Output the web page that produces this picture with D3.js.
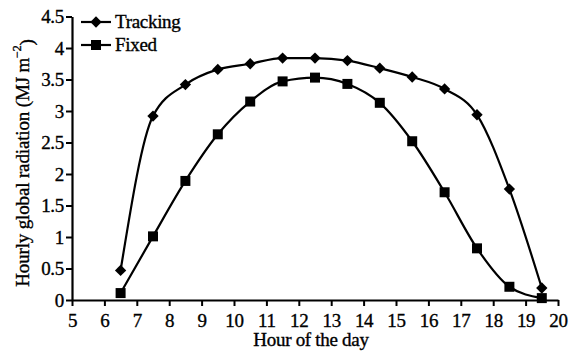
<!DOCTYPE html>
<html><head><meta charset="utf-8">
<script src="https://cdn.jsdelivr.net/npm/d3@7"></script>
<style>
body{margin:0;background:#fff;}
text{font-family:"Liberation Serif","Times New Roman",serif;fill:#000;stroke:#000;stroke-width:0.35px;}
</style></head>
<body><svg id="c" width="579" height="352"></svg>
<script>
const hours = [6.5,7.5,8.5,9.5,10.5,11.5,12.5,13.5,14.5,15.5,16.5,17.5,18.5,19.5];
const tracking = [0.47,2.92,3.42,3.66,3.75,3.84,3.84,3.80,3.68,3.54,3.35,2.94,1.76,0.19];
const fixed = [0.11,1.01,1.89,2.63,3.15,3.47,3.53,3.43,3.13,2.52,1.71,0.82,0.21,0.03];
const xTicks = [5,6,7,8,9,10,11,12,13,14,15,16,17,18,19,20];
const yTicks = [0,0.5,1,1.5,2,2.5,3,3.5,4,4.5];
const seriesNames = ["Tracking","Fixed"];

const FS = "19px", LS = "-0.3px";
const svg = d3.select("#c");
const x = d3.scaleLinear().domain([5,20]).range([72,558]);
const y = d3.scaleLinear().domain([0,4.5]).range([300,16.5]);

const xAxis = svg.append("g").attr("transform","translate(0,300)")
  .call(d3.axisBottom(x).tickValues(xTicks).tickFormat(d3.format("d")).tickSize(6).tickSizeOuter(0));
const yAxis = svg.append("g").attr("transform","translate(72,0)")
  .call(d3.axisLeft(y).tickValues(yTicks).tickFormat(d=>String(d)).tickSize(6).tickSizeOuter(0));
[xAxis,yAxis].forEach(a=>{
  a.selectAll("path").attr("stroke","#000").attr("stroke-width",2.2);
  a.selectAll("line").attr("stroke","#000").attr("stroke-width",2);
  a.selectAll("text").style("font-size",FS).style("letter-spacing",LS).attr("font-family",null);
});
xAxis.selectAll("text").attr("dy",null).attr("y",27);
yAxis.selectAll("text").attr("x",-8).attr("dy","0.34em");

const line = d3.line().x((d,i)=>x(hours[i])).y(d=>y(d)).curve(d3.curveMonotoneX);
[tracking,fixed].forEach(s=>{
  svg.append("path").attr("d",line(s)).attr("fill","none").attr("stroke","#000").attr("stroke-width",2.2);
});
const diamondPath = d3.symbol().type(d3.symbolSquare).size(64)();
const squarePath = d3.symbol().type(d3.symbolSquare).size(100)();
svg.append("g").selectAll("path").data(tracking).join("path")
  .attr("d",diamondPath)
  .attr("transform",(d,i)=>`translate(${x(hours[i])},${y(d)}) rotate(45)`).attr("fill","#000");
svg.append("g").selectAll("path").data(fixed).join("path")
  .attr("transform",(d,i)=>`translate(${x(hours[i])},${y(d)})`).attr("d",squarePath).attr("fill","#000");

// legend
const leg = svg.append("g");
const legY = [22,45];
seriesNames.forEach((n,i)=>{
  leg.append("line").attr("x1",81).attr("x2",111).attr("y1",legY[i]).attr("y2",legY[i]).attr("stroke","#000").attr("stroke-width",2.2);
  leg.append("path").attr("d",i===0?diamondPath:squarePath).attr("fill","#000")
    .attr("transform",`translate(96,${legY[i]})`+(i===0?" rotate(45)":""));
  leg.append("text").attr("x",115).attr("y",legY[i]).attr("dy","0.32em").style("font-size",FS).style("letter-spacing",LS).text(n);
});

svg.append("text").attr("x",311).attr("y",346).attr("text-anchor","middle").style("font-size",FS).style("letter-spacing",LS).text("Hour of the day");
const yl = svg.append("text").attr("transform","translate(28.5,163) rotate(-90)").attr("text-anchor","middle").style("font-size",FS).style("letter-spacing","-0.15px");
yl.append("tspan").text("Hourly global radiation (MJ m");
yl.append("tspan").attr("dy","-0.6em").style("font-size","12px").text("−2");
yl.append("tspan").attr("dy","0.6em").text(")");
</script></body></html>
